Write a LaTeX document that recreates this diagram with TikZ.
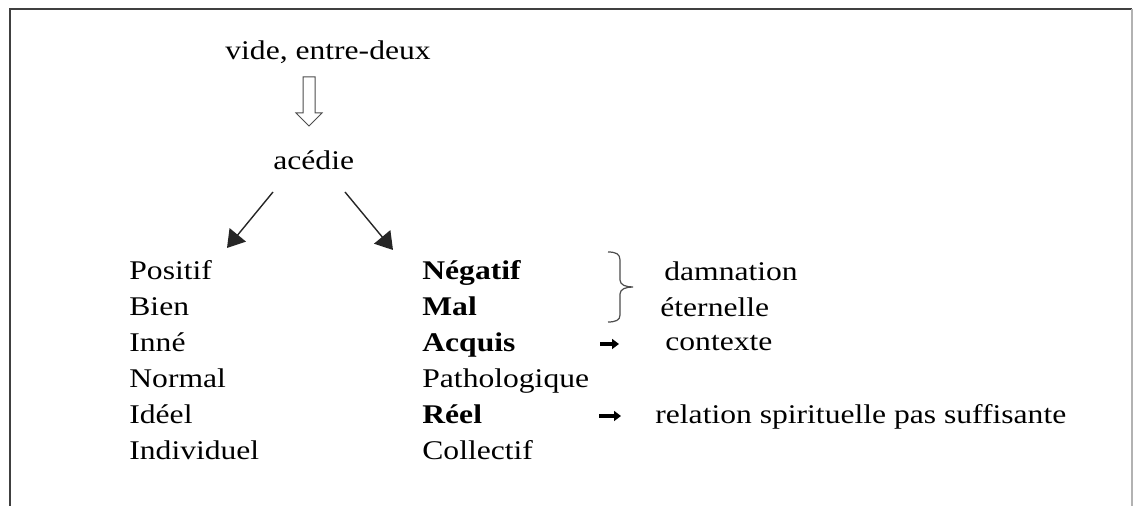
\documentclass[tikz,border=0pt]{standalone}
\usepackage{fontspec}
\usepackage{graphicx}
\setmainfont{Liberation Serif}
\usetikzlibrary{arrows.meta}
\newcommand{\stretchtxt}[1]{\scalebox{1.17}[1]{#1}}
\tikzset{
  lbl/.style={anchor=base west, inner sep=0pt, font=\fontsize{13.5}{15}\selectfont},
  bl/.style={anchor=base west, inner sep=0pt, font=\fontsize{13.5}{15}\selectfont\bfseries},
  diag/.style={line width=0.7pt, draw=black!85, -{Triangle[length=8.5pt,width=10.5pt]}},
  smallarr/.style={line width=2pt, -{Triangle[length=3.5pt,width=5pt]}},
  framel/.style={line width=1.2pt, draw=black!75},
  framer/.style={line width=1pt, draw=black!30},
  hollow/.style={line width=0.5pt, draw=black!70},
  bracestyle/.style={line width=0.6pt, draw=black!70}
}
\begin{document}
\begin{tikzpicture}[x=0.5pt,y=-0.5pt]
\useasboundingbox (0,0) rectangle (1133,506);
% frame
\draw[framel] (10,506) -- (10,9) -- (1132,9);
\draw[framer] (1132,9) -- (1132,506);
% top
\node[lbl] (vide) at (225,60) {\stretchtxt{vide, entre-deux}};
\draw[hollow] (303,77) -- (315,77) -- (315,113) -- (322,113) -- (309,126) -- (296,113) -- (303,113) -- cycle;
\node[lbl] (acedie) at (273,170) {\stretchtxt{acédie}};
% diagonal arrows
\coordinate (ls) at (273,192);
\coordinate (le) at (227,248);
\coordinate (rs) at (345,192);
\coordinate (re) at (393,250);
\draw[diag] (ls) -- (le);
\draw[diag] (rs) -- (re);
% column 1
\node[lbl] (positif) at (129,280) {\stretchtxt{Positif}};
\node[lbl] (bien) at (129,316) {\stretchtxt{Bien}};
\node[lbl] (inne) at (129,352) {\stretchtxt{Inné}};
\node[lbl] (normal) at (129,388) {\stretchtxt{Normal}};
\node[lbl] (ideel) at (129,424) {\stretchtxt{Idéel}};
\node[lbl] (indiv) at (129,460) {\stretchtxt{Individuel}};
% column 2
\node[bl] (negatif) at (422,280) {\stretchtxt{Négatif}};
\node[bl] (mal) at (422,316) {\stretchtxt{Mal}};
\node[bl] (acquis) at (422,352) {\stretchtxt{Acquis}};
\node[lbl] (patho) at (422,388) {\stretchtxt{Pathologique}};
\node[bl] (reel) at (422,424) {\stretchtxt{Réel}};
\node[lbl] (collectif) at (422,460) {\stretchtxt{Collectif}};
% brace
\draw[bracestyle] (608,252) .. controls (616,252) and (620,254) .. (620,260) -- (620,280)
  .. controls (620,285) and (626,287) .. (633,287)
  .. controls (626,287) and (620,289) .. (620,294) -- (620,315)
  .. controls (620,320) and (616,322) .. (608,322);
% column 3
\node[lbl] (damnation) at (664,281) {\stretchtxt{damnation}};
\node[lbl] (eternelle) at (660,317) {\stretchtxt{éternelle}};
\node[lbl] (contexte) at (665,351) {\stretchtxt{contexte}};
\node[lbl] (relation) at (655,424) {\stretchtxt{relation spirituelle pas suffisante}};
% small arrows
\coordinate (a1s) at (600,344);
\coordinate (a1e) at (619,344);
\coordinate (a2s) at (599,416);
\coordinate (a2e) at (621,416);
\draw[smallarr] (a1s) -- (a1e);
\draw[smallarr] (a2s) -- (a2e);
\end{tikzpicture}
\end{document}
